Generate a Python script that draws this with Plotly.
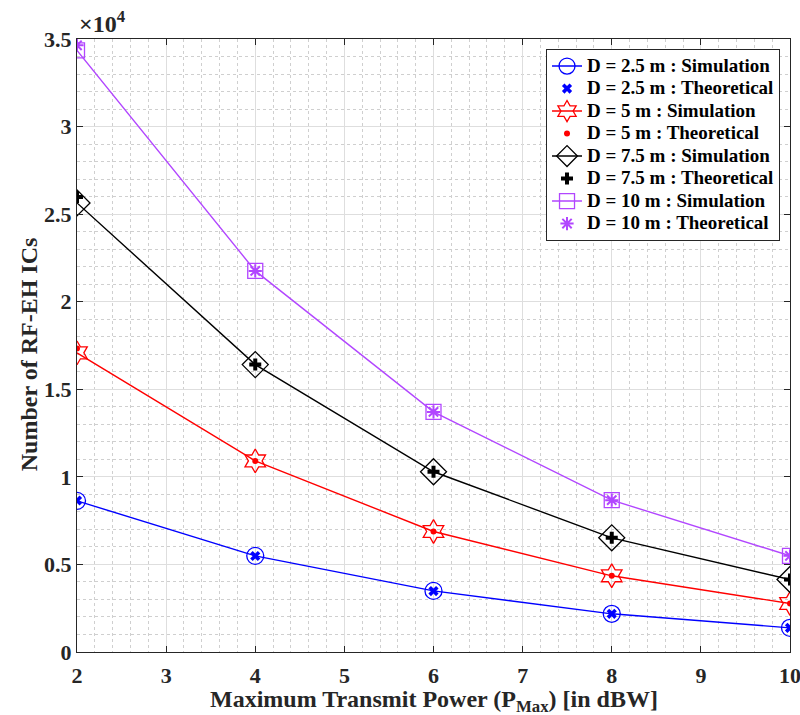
import plotly.graph_objects as go

# Transmit power levels (dBW)
p_max = [2, 4, 6, 8, 10]

# Number of RF-EH ICs for each distance
sim_d25 = [8630, 5490, 3490, 2180, 1380]
theo_d25 = [8650, 5480, 3480, 2180, 1380]
sim_d5 = [17080, 10910, 6880, 4350, 2770]
theo_d5 = [17330, 10910, 6880, 4350, 2770]
sim_d75 = [25640, 16410, 10290, 6520, 4140]
theo_d75 = [25980, 16410, 10290, 6520, 4140]
sim_d10 = [34350, 21760, 13710, 8670, 5490]
theo_d10 = [34640, 21760, 13710, 8670, 5490]

y_tickvals = [0, 5000, 10000, 15000, 20000, 25000, 30000, 35000]
y_ticktext = ["0", "0.5", "1", "1.5", "2", "2.5", "3", "3.5"]
x_tickvals = [2, 3, 4, 5, 6, 7, 8, 9, 10]

BLUE = "#0000ff"
RED = "#ff0000"
BLACK = "#000000"
PURPLE = "#b246ff"
FONT = "Liberation Serif"
INK = "#262626"

series = [
    ("D = 2.5 m", sim_d25, theo_d25, BLUE, "circle-open", 17, "x", 9),
    ("D = 5 m", sim_d5, theo_d5, RED, "hexagram-open", 18, "circle", 6),
    ("D = 7.5 m", sim_d75, theo_d75, BLACK, "diamond-open", 20, "cross", 10),
    ("D = 10 m", sim_d10, theo_d10, PURPLE, "square-open", 15, "asterisk-open", 11),
]


def legend_label(text):
    return f'<span style="font-size:19px"><b>{text}</b></span>'


fig = go.Figure()
for name, sim, theo, color, sim_sym, sim_size, th_sym, th_size in series:
    fig.add_trace(go.Scatter(
        x=p_max, y=sim, mode="lines+markers", name=legend_label(f"{name} : Simulation"),
        line=dict(color=color, width=1.4),
        marker=dict(symbol=sim_sym, size=sim_size, color=color,
                    line=dict(color=color, width=1.3)),
    ))
    fig.add_trace(go.Scatter(
        x=p_max, y=theo, mode="markers", name=legend_label(f"{name} : Theoretical"),
        marker=dict(symbol=th_sym, size=th_size, color=color,
                    line=dict(color=color, width=2 if th_sym == "asterisk-open" else 0)),
    ))

axis_common = dict(
    showline=True, linecolor=INK, linewidth=1, mirror="ticks",
    ticks="inside", ticklen=6, tickcolor=INK,
    showgrid=True, gridcolor="#dedede", gridwidth=1, zeroline=False,
    tickfont=dict(family=FONT, size=22, color=INK, weight="bold"),
    automargin=False, ticklabeloverflow="allow",
)

fig.update_xaxes(
    range=[2, 10], tickvals=x_tickvals, ticklabelstandoff=4,
    minor=dict(dtick=0.2, showgrid=True, gridcolor="#cfcfcf", griddash="dot",
               ticks=""),
    **axis_common,
)
fig.update_yaxes(
    range=[0, 35000], tickvals=y_tickvals, ticktext=y_ticktext,
    minor=dict(dtick=1000, showgrid=True, gridcolor="#cfcfcf", griddash="dot",
               ticks=""),
    **axis_common,
)

# Axis titles
fig.add_annotation(
    text="<b>Maximum Transmit Power (P<sub>Max</sub>) [in dBW]</b>",
    xref="paper", yref="paper", x=0.5, y=-0.0515, xanchor="center", yanchor="top",
    showarrow=False, font=dict(family=FONT, size=24, color=INK),
)
fig.add_annotation(
    text="<b>Number of RF-EH ICs</b>", textangle=-90,
    xref="paper", yref="paper", x=-0.068, y=0.485, xanchor="center", yanchor="middle",
    showarrow=False, font=dict(family=FONT, size=24, color=INK),
)
# Exponent label for the y axis
fig.add_annotation(
    text="<b>×10<sup>4</sup></b>", xref="paper", yref="paper", x=0.0, y=1.0,
    xanchor="left", yanchor="bottom", showarrow=False,
    font=dict(family=FONT, size=24, color=INK),
)

fig.update_layout(
    width=800, height=715,
    margin=dict(l=77, r=10, t=39, b=63),
    plot_bgcolor="white", paper_bgcolor="white",
    font=dict(family=FONT, color=INK),
    legend=dict(
        x=0.986, y=0.984, xanchor="right", yanchor="top",
        bgcolor="white", bordercolor=INK, borderwidth=1,
        font=dict(family=FONT, size=15, color="#000000"),
        tracegroupgap=0, itemsizing="trace",
    ),
    showlegend=True,
)

fig.write_html("out.html")
